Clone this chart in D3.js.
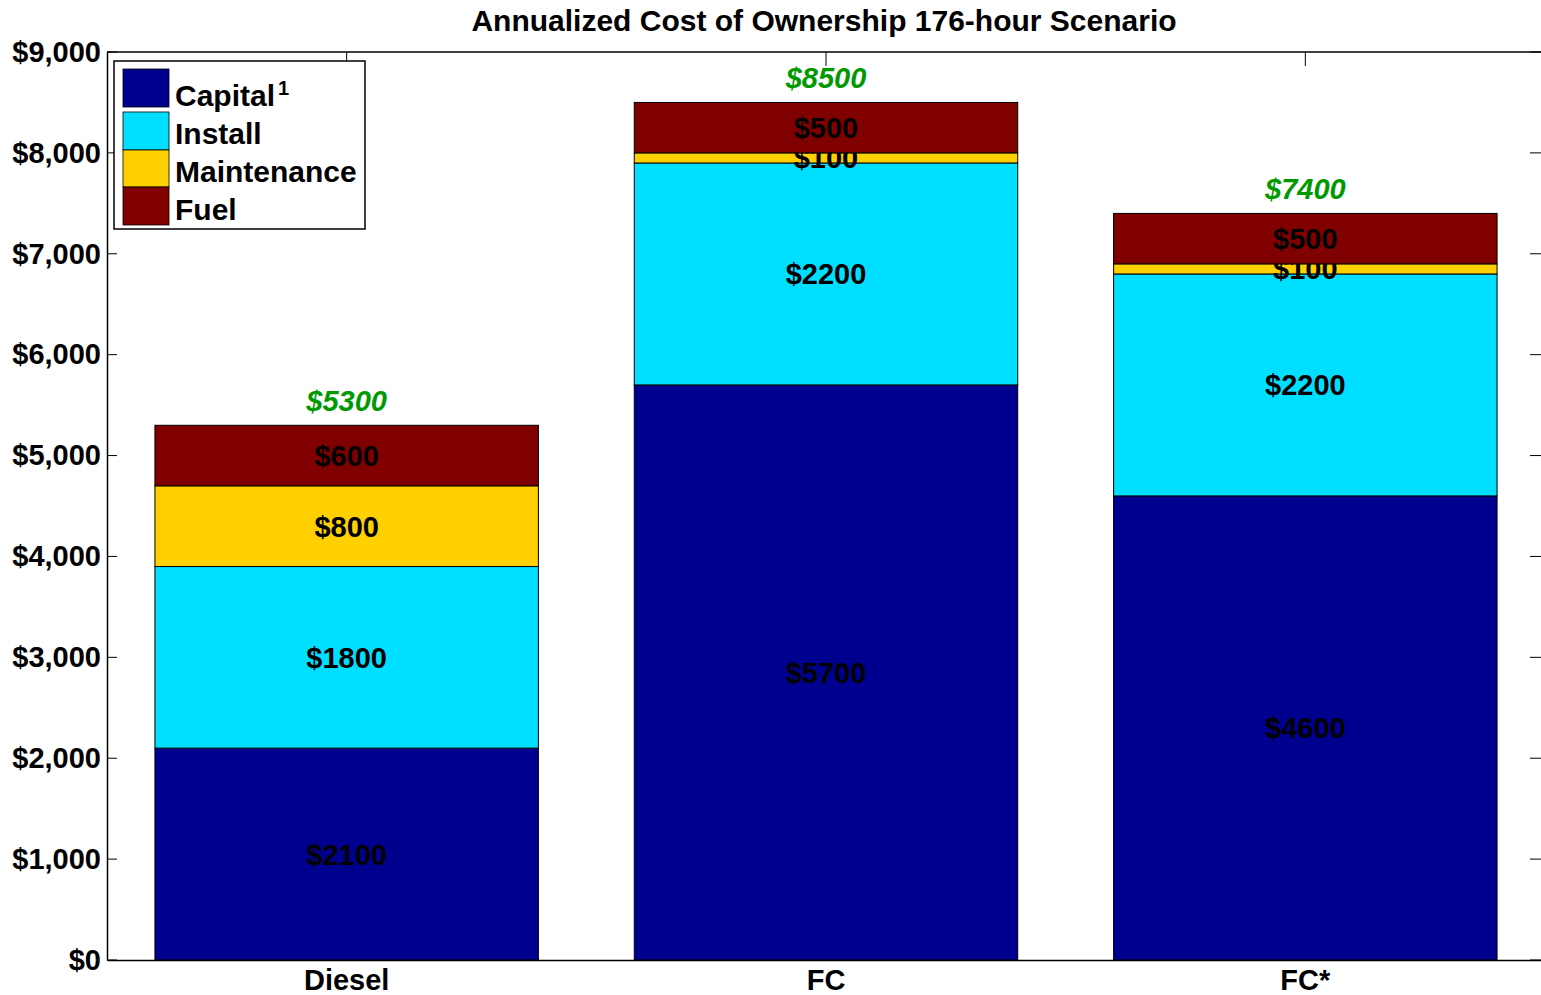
<!DOCTYPE html>
<html>
<head>
<meta charset="utf-8">
<script src="https://cdn.jsdelivr.net/npm/d3@7"></script>
<style>
  body { margin: 0; background: #fff; }
  text { font-family: "Liberation Sans", Arial, sans-serif; font-weight: bold; }
</style>
</head>
<body>
<div class="chart"></div>
<script>
var width = 1541
var height = 995
var categories = ["Diesel", "FC", "FC*"];
var seriesNames = ["Capital", "Install", "Maintenance", "Fuel"];
var capital = [2100, 5700, 4600];
var install = [1800, 2200, 2200];
var maintenance = [800, 100, 100];
var fuel = [600, 500, 500];
var totals = [5300, 8500, 7400];
var yTicks = [0, 1000, 2000, 3000, 4000, 5000, 6000, 7000, 8000, 9000];
const colors = ["#00008f", "#00dfff", "#ffd000", "#800000"];

var plotLeft = 107, plotTop = 52, plotBottom = 960;
var fs = "29px";

var data = categories.map(function(c, i) {
  return { cat: c, Capital: capital[i], Install: install[i], Maintenance: maintenance[i], Fuel: fuel[i] };
});

var x = d3.scaleBand()
    .domain(categories)
    .range([plotLeft, 1545])
    .paddingInner(0.2)
    .paddingOuter(0.1);

var y = d3.scaleLinear()
    .domain([0, 9000])
    .range([plotBottom, plotTop]);

var svg = d3.select(".chart").append("svg")
    .attr("width", width)
    .attr("height", height);

// bars
var stack = d3.stack().keys(seriesNames)(data);

var layer = svg.selectAll(".layer")
    .data(stack)
    .enter().append("g")
    .attr("class", "layer")
    .attr("fill", function(d, i) { return colors[i]; });

layer.selectAll("rect")
    .data(function(d) { return d; })
    .enter().append("rect")
    .attr("x", function(d) { return x(d.data.cat); })
    .attr("y", function(d) { return y(d[1]); })
    .attr("width", x.bandwidth())
    .attr("height", function(d) { return y(d[0]) - y(d[1]); })
    .attr("stroke", "#000")
    .attr("stroke-width", 1);

// segment labels
layer.selectAll(".seg")
    .data(function(d) { return d; })
    .enter().append("text")
    .attr("class", "seg")
    .attr("x", function(d) { return x(d.data.cat) + x.bandwidth() / 2; })
    .attr("y", function(d) { return y((d[0] + d[1]) / 2); })
    .attr("dy", "0.36em")
    .attr("text-anchor", "middle")
    .attr("fill", "#000")
    .style("font-size", fs)
    .text(function(d) { return "$" + (d[1] - d[0]); });

// totals
svg.selectAll(".total")
    .data(totals)
    .enter().append("text")
    .attr("class", "total")
    .attr("x", function(d, i) { return x(categories[i]) + x.bandwidth() / 2; })
    .attr("y", function(d) { return y(d) - 25; })
    .attr("dy", "0.36em")
    .attr("text-anchor", "middle")
    .attr("fill", "#009900")
    .style("font-size", fs)
    .style("font-style", "italic")
    .text(function(d) { return "$" + d; });

// axes
var yAxis = d3.axisLeft(y)
    .tickValues(yTicks)
    .tickSize(0)
    .tickPadding(6)
    .tickFormat(function(d) { return "$" + d3.format(",")(d); });

var gy = svg.append("g")
    .attr("transform", "translate(" + plotLeft + ",0)")
    .call(yAxis);
gy.select(".domain").attr("stroke", "#000").attr("stroke-width", 1.5);
gy.selectAll("text").style("font-size", fs).attr("fill", "#000");

// inner ticks on the left and right
svg.selectAll(".ytickL")
    .data(yTicks)
    .enter().append("line")
    .attr("x1", plotLeft).attr("x2", plotLeft + 10)
    .attr("y1", function(d) { return y(d); })
    .attr("y2", function(d) { return y(d); })
    .attr("stroke", "#000");
svg.selectAll(".ytickR")
    .data(yTicks)
    .enter().append("line")
    .attr("x1", 1530).attr("x2", 1541)
    .attr("y1", function(d) { return y(d); })
    .attr("y2", function(d) { return y(d); })
    .attr("stroke", "#000");

var xAxis = d3.axisBottom(x).tickSize(0).tickPadding(9);
var gx = svg.append("g")
    .attr("transform", "translate(0," + plotBottom + ")")
    .call(xAxis);
gx.select(".domain").attr("stroke", "#000").attr("stroke-width", 1.5);
gx.selectAll("text").style("font-size", fs).attr("fill", "#000");

// top border with ticks
svg.append("line")
    .attr("x1", plotLeft).attr("x2", width)
    .attr("y1", plotTop).attr("y2", plotTop)
    .attr("stroke", "#000").attr("stroke-width", 1.5);
svg.selectAll(".xtickT")
    .data(categories)
    .enter().append("line")
    .attr("x1", function(d) { return x(d) + x.bandwidth() / 2; })
    .attr("x2", function(d) { return x(d) + x.bandwidth() / 2; })
    .attr("y1", plotTop).attr("y2", plotTop + 14)
    .attr("stroke", "#000");

// title
svg.append("text")
    .attr("x", 824)
    .attr("y", 20)
    .attr("dy", "0.36em")
    .attr("text-anchor", "middle")
    .style("font-size", "30px")
    .text("Annualized Cost of Ownership 176-hour Scenario");

// legend
var legend = svg.append("g");
legend.append("rect")
    .attr("x", 114).attr("y", 61)
    .attr("width", 251).attr("height", 168)
    .attr("fill", "#fff")
    .attr("stroke", "#000")
    .attr("stroke-width", 1.5);

var sw = [[69, 38], [112, 38], [150, 37], [187, 38]];
var items = legend.selectAll(".item")
    .data(seriesNames)
    .enter().append("g")
    .attr("class", "item");
items.append("rect")
    .attr("x", 123)
    .attr("y", function(d, i) { return sw[i][0]; })
    .attr("width", 46)
    .attr("height", function(d, i) { return sw[i][1]; })
    .attr("fill", function(d, i) { return colors[i]; })
    .attr("stroke", "#000")
    .attr("stroke-width", 0.8);
var lt = items.append("text")
    .attr("x", 175)
    .attr("y", function(d, i) { return [95, 133, 171, 209][i]; })
    .attr("dy", "0.36em")
    .style("font-size", "30px")
    .text(function(d) { return d; });
lt.filter(function(d) { return d == "Capital"; })
    .append("tspan")
    .attr("dx", "3")
    .attr("dy", "-0.55em")
    .style("font-size", "20px")
    .text("1");
</script>
</body>
</html>
